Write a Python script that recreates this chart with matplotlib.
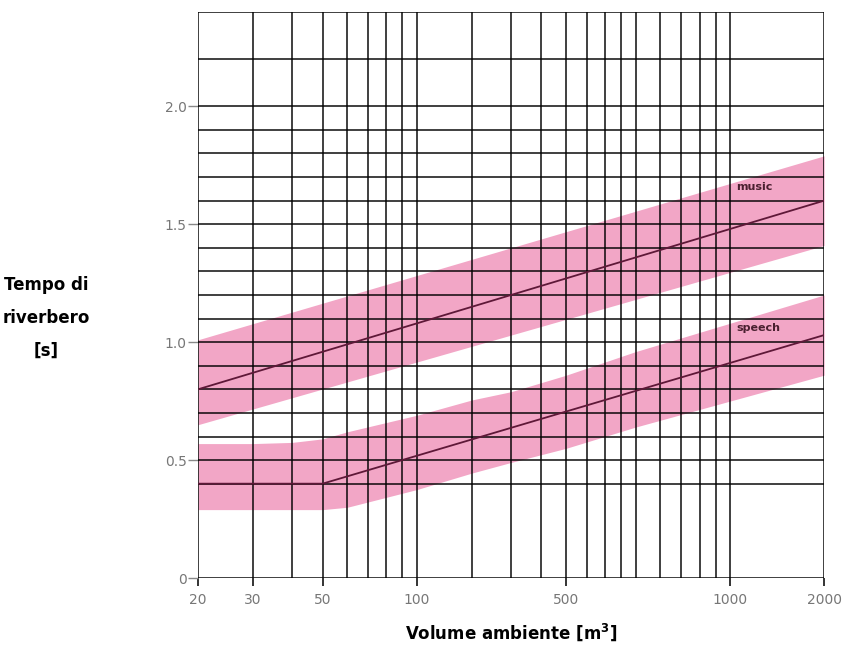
import matplotlib.pyplot as plt
import numpy as np

# grid and ticks (volume values on a log axis)
x_grid = [20, 30, 40, 50, 60, 70, 80, 90, 100, 150, 200, 250, 300, 350, 400,
          450, 500, 600, 700, 800, 900, 1000, 2000]
y_grid = [0, 0.4, 0.5, 0.6, 0.7, 0.8, 0.9, 1.0, 1.1, 1.2, 1.3, 1.4, 1.5, 1.6,
          1.7, 1.8, 1.9, 2.0, 2.2, 2.4]
x_ticks = [20, 30, 50, 100, 300, 1000, 2000]
x_labels = ['20', '30', '50', '100', '500', '1000', '2000']
y_ticks = [0, 0.5, 1.0, 1.5, 2.0]
y_labels = ['0', '0.5', '1.0', '1.5', '2.0']

# music
music_x = [20, 2000]
music_line = [0.8, 1.6]
music_hi = [1.01, 1.79]
music_lo = [0.65, 1.41]

# speech
speech_x = [20, 50, 2000]
speech_line = [0.4, 0.4, 1.03]
band_x = [20, 30, 40, 50, 60, 100, 150, 200, 300, 500, 1000, 2000]
speech_hi = [0.57, 0.57, 0.575, 0.59, 0.62, 0.69, 0.755, 0.79, 0.86, 0.96, 1.08, 1.20]
speech_lo = [0.29, 0.29, 0.29, 0.29, 0.30, 0.375, 0.445, 0.49, 0.55, 0.64, 0.75, 0.86]

pink = '#f2a6c6'
line_col = '#5e1838'

fig = plt.figure(figsize=(8.54, 6.65), dpi=100)
ax = fig.add_axes([0.2318, 0.1308, 0.7332, 0.8512])
ax.set_xscale('log')
ax.set_xlim(20, 2000)
ax.set_ylim(0, 2.4)

ax.fill_between(music_x, music_lo, music_hi, color=pink, lw=0, zorder=1)
ax.fill_between(band_x, speech_lo, speech_hi, color=pink, lw=0, zorder=1)

# grid drawn above the bands, semi-transparent so the pink shows through
for xv in x_grid:
    ax.axvline(xv, color='black', alpha=0.75, lw=1.4, zorder=2)
for yv in y_grid:
    ax.axhline(yv, color='black', alpha=0.75, lw=1.4, zorder=2)

ax.plot(music_x, music_line, color=line_col, lw=1.3, zorder=3)
ax.plot(speech_x, speech_line, color=line_col, lw=1.3, zorder=3)

ax.text(1050, 1.66, 'music', fontsize=8, color='#4a2030', fontweight='bold',
        ha='left', va='center', zorder=4)
ax.text(1050, 1.06, 'speech', fontsize=8, color='#4a2030', fontweight='bold',
        ha='left', va='center', zorder=4)

for s in ax.spines.values():
    s.set_visible(False)

ax.set_xticks(x_ticks)
ax.set_xticklabels(x_labels)
ax.xaxis.set_minor_locator(plt.NullLocator())
ax.set_yticks(y_ticks)
ax.set_yticklabels(y_labels)
ax.tick_params(axis='x', length=6, width=1.4, color='#333333', pad=5,
               labelsize=10, labelcolor='#777777')
ax.tick_params(axis='y', length=7, width=1.0, color='#888888', pad=1,
               labelsize=10, labelcolor='#777777')

fig.text(0.598, 0.05, 'Volume ambiente [m$^{\\mathbf{3}}$]', fontsize=12,
         fontweight='bold', ha='center', va='center')
fig.text(0.054, 0.522, 'Tempo di\nriverbero\n[s]', fontsize=12,
         fontweight='bold', ha='center', va='center', linespacing=2.05)

fig.savefig('out.png', dpi=100)
